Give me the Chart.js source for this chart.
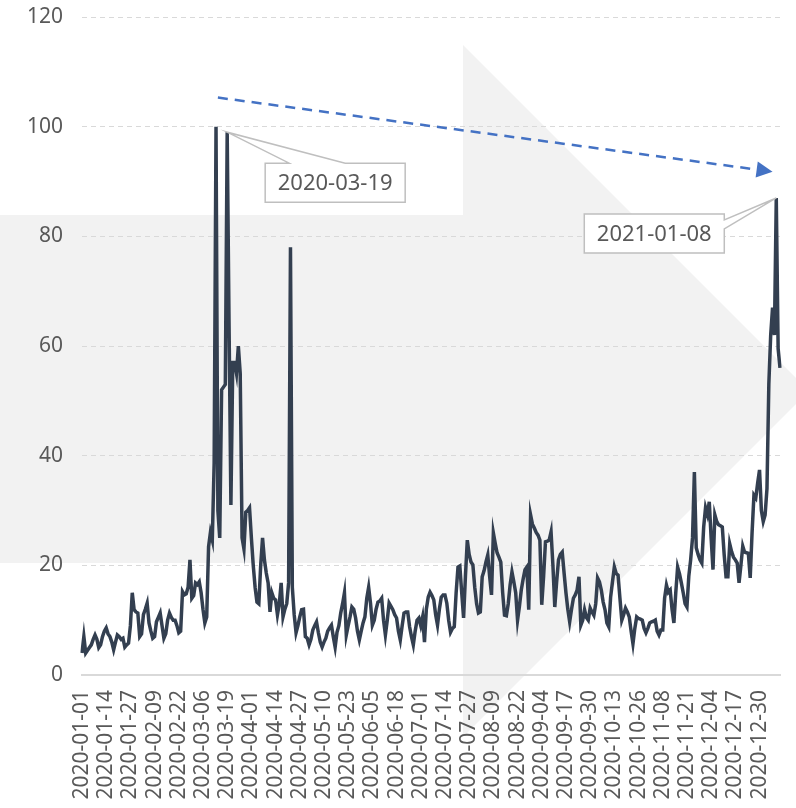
<!DOCTYPE html>
<html>
<head>
<meta charset="utf-8">
<script src="https://cdn.jsdelivr.net/npm/chart.js@4.4.0/dist/chart.umd.min.js"></script>
<style>
  html, body { margin: 0; padding: 0; background: #fff; }
  #wrap { width: 796px; height: 808px; position: relative; }
</style>
</head>
<body>
<div id="wrap"><canvas id="chart"></canvas></div>
<script>
// Daily values, 2020-01-01 .. 2021-01-10
const startDate = "2020-01-01";
const values = [
    4, 7, 4, 4.5, 5, 5.5, 6.5, 7.3, 6.5, 5,
    5.5, 7, 8, 8.6, 7.5, 7, 6, 4.6, 6, 7.3,
    7, 6.5, 6.7, 5.1, 5.5, 5.8, 9, 15, 11.9, 11.5,
    11.3, 7, 7.5, 11, 12, 13.1, 9.5, 8, 6.7, 7,
    9.7, 10.5, 11.3, 9, 6.7, 7.5, 10, 11.3, 10.5, 10,
    10, 9, 7.7, 8, 15.2, 14.6, 14.8, 16, 21, 14,
    14.5, 16.8, 16.5, 17, 15, 12, 9.5, 10.6, 23.4, 26,
    24.6, 38.7, 100, 30, 25, 52, 52.5, 53, 99, 64,
    31, 57, 57, 55, 60, 55, 25, 23, 29.7, 30,
    30.5, 25, 20, 16, 13.3, 13, 20, 25, 21, 18.6,
    16.8, 11.5, 15, 14, 13.7, 11, 13, 16.8, 10.6, 12,
    13, 16.8, 78, 16, 11, 7.7, 9, 10.6, 11.9, 12,
    7, 6.7, 5.5, 6.5, 8.2, 9, 9.7, 7.7, 6, 5.1,
    6, 6.7, 8, 8.6, 9.1, 7, 5.1, 7.8, 9, 11.3,
    13, 15, 7.3, 9, 10.6, 12.4, 12, 10.4, 8, 6.4,
    8, 9.5, 10.6, 14, 16, 13.1, 9.1, 10, 12, 13.3,
    13.5, 14, 10, 7.3, 10, 13.1, 12.5, 11.9, 11, 10.4,
    8, 6.4, 9, 11.3, 11.5, 11.5, 8.8, 7, 5.5, 8,
    10, 10.4, 9, 10.6, 6, 12, 14.2, 15.1, 14.5, 13.7,
    11, 9.1, 12, 14.2, 14.6, 14.6, 13.1, 10, 7.8, 8.5,
    8.8, 15, 19.7, 19.9, 15, 10.4, 18, 24.6, 22, 20.6,
    20.1, 16, 13, 11.3, 11.5, 17.9, 19, 20.6, 21.9, 18,
    14.6, 25.9, 24, 22.3, 21.5, 20.6, 15, 10.9, 10.8, 13,
    16.4, 18.8, 17, 15, 10, 12.5, 15.5, 17.5, 19.2, 19.7,
    11.9, 29.2, 27.5, 26.8, 26, 25.5, 24.6, 12.8, 18, 24.3,
    24.4, 24.6, 26.1, 20, 12.4, 17, 21, 22, 22.4, 18.6,
    15, 12, 9.7, 12, 14, 14.6, 15.5, 17.9, 9.1, 10,
    11.9, 10.5, 10, 12.2, 11.5, 10.9, 13, 17.7, 17, 15.5,
    13.3, 11.9, 9.5, 8.8, 14.2, 17, 19.7, 18.5, 18.2, 14,
    10, 11, 12.2, 11.5, 10.6, 8, 5.7, 8.5, 10.6, 10.3,
    10.2, 10, 8.5, 7.7, 8.5, 9.5, 9.7, 9.8, 10, 8,
    7.3, 8.2, 8.2, 14, 16.4, 15.1, 15.5, 12, 9.5, 15,
    19.7, 18.5, 16.8, 15, 13, 12.4, 18, 21, 25, 37,
    23.2, 22, 21, 20.4, 27, 30.5, 29.3, 31.6, 25, 19.2,
    29.2, 28, 27.4, 27.2, 27, 22, 17.9, 17.9, 23.9, 22.5,
    21.5, 21, 20.4, 16.8, 20, 23.5, 22.4, 22.3, 22.2, 17.7,
    26, 32.8, 32.3, 35, 37.4, 30, 28, 29.2, 34, 53,
    62, 67, 62, 87, 59.5, 56
];
const labelEvery = 13; // a date label every 13 days

// callouts (data index) and the dashed trend arrow (index, value)
const callouts = [
    { index: 78, text: "2020-03-19" },
    { index: 373, text: "2021-01-08" },
];
const trend = { fromIndex: 73, fromValue: 105.3, toIndex: 371, toValue: 91.8 };

// dates as labels
const labels = [];
const d0 = new Date(startDate + "T00:00:00Z");
for (let i = 0; i < values.length; i++) {
    const d = new Date(d0.getTime() + i * 86400000);
    labels.push(d.toISOString().slice(0, 10));
}

const FONT = "'Noto Sans', sans-serif";
const GREY_TEXT = "#595959";

// big pale arrow behind the plot
const bgArrow = {
    id: "bgArrow",
    beforeDraw(chart) {
        const c = chart.ctx;
        c.save();
        c.fillStyle = "#f2f2f2";
        c.beginPath();
        c.moveTo(0, 215);
        c.lineTo(463, 215);
        c.lineTo(463, 45);
        c.lineTo(809, 391);
        c.lineTo(463, 737);
        c.lineTo(463, 563);
        c.lineTo(0, 563);
        c.closePath();
        c.fill();
        c.restore();
    },
};

const overlays = {
    id: "overlays",
    afterDatasetsDraw(chart) {
        const c = chart.ctx;
        const xs = chart.scales.x;
        const ys = chart.scales.y;

        // dashed trend arrow
        const x1 = xs.getPixelForValue(trend.fromIndex);
        const y1 = ys.getPixelForValue(trend.fromValue);
        const x2 = xs.getPixelForValue(trend.toIndex);
        const y2 = ys.getPixelForValue(trend.toValue);
        const ang = Math.atan2(y2 - y1, x2 - x1);
        const headLen = 16, headW = 8;
        const bx = x2 - headLen * Math.cos(ang);
        const by = y2 - headLen * Math.sin(ang);
        c.save();
        c.strokeStyle = "#4472C4";
        c.fillStyle = "#4472C4";
        c.lineWidth = 2.5;
        c.setLineDash([10, 7]);
        c.beginPath();
        c.moveTo(x1, y1);
        c.lineTo(bx, by);
        c.stroke();
        c.setLineDash([]);
        c.beginPath();
        c.moveTo(x2, y2);
        c.lineTo(bx + headW * Math.sin(ang), by - headW * Math.cos(ang));
        c.lineTo(bx - headW * Math.sin(ang), by + headW * Math.cos(ang));
        c.closePath();
        c.fill();
        c.restore();

        // callouts
        callouts.forEach((co, k) => {
            const ax = xs.getPixelForValue(co.index);
            const ay = ys.getPixelForValue(values[co.index]);
            const w = 140, h = 39;
            c.save();
            c.beginPath();
            let L, T;
            if (k === 0) {
                L = ax + 38; T = ay + 31;
                c.moveTo(L, T);
                c.lineTo(L + 24, T);
                c.lineTo(ax, ay);
                c.lineTo(L + 80, T);
                c.lineTo(L + w, T);
                c.lineTo(L + w, T + h);
                c.lineTo(L, T + h);
            } else {
                L = ax - 52 - w; T = ay + 16;
                c.moveTo(L, T);
                c.lineTo(L + w, T);
                c.lineTo(L + w, T + 6);
                c.lineTo(ax, ay);
                c.lineTo(L + w, T + 15);
                c.lineTo(L + w, T + h);
                c.lineTo(L, T + h);
            }
            c.closePath();
            c.fillStyle = "#ffffff";
            c.fill();
            c.strokeStyle = "#bfbfbf";
            c.lineWidth = 1.5;
            c.stroke();
            c.fillStyle = GREY_TEXT;
            c.font = "22px " + FONT;
            c.textAlign = "center";
            c.textBaseline = "middle";
            c.fillText(co.text, L + w / 2, T + h / 2 + 1);
            c.restore();
        });
    },
};

new Chart(document.getElementById("chart"), {
    type: "line",
    data: {
        labels,
        datasets: [
            {
                data: values,
                borderColor: "#333F50",
                borderWidth: 3.5,
                pointRadius: 0,
                tension: 0,
                fill: false,
            },
        ],
    },
    options: {
        responsive: true,
        maintainAspectRatio: false,
        animation: false,
        layout: { padding: { left: 27, right: 16, top: 17, bottom: 0 } },
        plugins: {
            legend: { display: false },
            tooltip: { enabled: false },
        },
        scales: {
            x: {
                grid: { display: false },
                border: { display: true, color: "#d9d9d9", width: 2 },
                ticks: {
                    autoSkip: false,
                    minRotation: 90,
                    maxRotation: 90,
                    padding: 7,
                    color: GREY_TEXT,
                    font: { family: FONT, size: 21 },
                    callback: (v, i) => (i % labelEvery === 0 ? labels[i] : ""),
                },
                afterFit(scale) {
                    scale.height = 133;
                    scale.paddingLeft = 0;
                    scale.paddingRight = 0;
                },
            },
            y: {
                min: 0,
                max: 120,
                ticks: {
                    stepSize: 20,
                    padding: 19,
                    color: GREY_TEXT,
                    font: { family: FONT, size: 21 },
                },
                grid: { color: "#d9d9d9", lineWidth: 1, drawTicks: false },
                border: { display: false, dash: [5, 4] },
                afterFit(scale) {
                    scale.width = 55;
                    scale.paddingTop = 0;
                    scale.paddingBottom = 0;
                },
            },
        },
    },
    plugins: [bgArrow, overlays],
});
</script>
</body>
</html>
